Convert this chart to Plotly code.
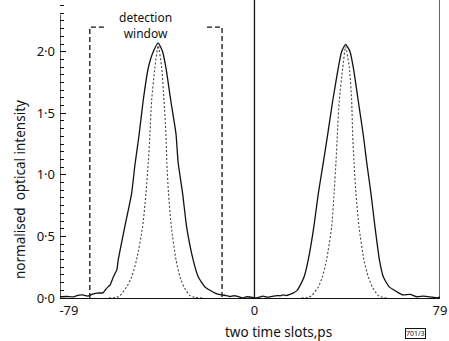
import plotly.graph_objects as go

# ---- data ----
solid_x = [-82.8, -80, -77, -75.6, -73.5, -71.5, -70.9, -69.2, -67.1, -64.5, -63.7, -62.4, -61.5, -60.1,
           -58.6, -58.0, -55.2, -52.3, -50.9, -49.1, -47.4, -45.2, -43.1, -41.0, -39.1, -37.7, -35.6,
           -33.4, -32.5, -30.6, -28.9, -26.1, -23.9, -21.1, -16.8, -14.0, -12.0, -10.4, -9.0, -7.5,
           -6.0, -4.9, -3.5, -1.9, 0.0, 1.1, 2.5, 3.6, 5.0, 6.6, 8.0, 9.6, 11.0, 12.1, 13.5, 15.1,
           16.4, 18.1, 19.1, 21.1, 22.9, 25.3, 27.2, 29.3, 31.2, 33.3, 35.7, 37.1, 38.8, 40.7, 42.1,
           44.2, 46.3, 47.8, 49.6, 51.3, 53.2, 54.9, 57.4, 60.7, 63.2, 66.2, 69.2, 71.8, 74.7, 77.7, 79.0]
solid_y = [0.01, 0.012, 0.01, 0.02, 0.025, 0.018, 0.015, 0.03, 0.04, 0.042, 0.06, 0.09, 0.105, 0.17,
           0.23, 0.31, 0.58, 0.85, 1.08, 1.33, 1.6, 1.87, 2.0, 2.07, 2.0, 1.87, 1.6,
           1.33, 1.1, 0.85, 0.58, 0.31, 0.17, 0.09, 0.04, 0.025, 0.02, 0.012, 0.018, 0.015,
           0.005, 0.0, 0.01, 0.008, 0.002, 0.0, 0.01, 0.015, 0.008, 0.01, 0.015, 0.02, 0.018, 0.025, 0.02, 0.03,
           0.04, 0.06, 0.09, 0.17, 0.31, 0.58, 0.85, 1.1, 1.33, 1.6, 1.87, 2.0, 2.06, 2.0, 1.87,
           1.6, 1.33, 1.1, 0.85, 0.58, 0.31, 0.17, 0.09, 0.05, 0.025, 0.03, 0.01, 0.015, 0.01, 0.0, 0.01]

dot1_x = [-62, -58.6, -57.3, -54.4, -52.3, -50.2, -47.6, -46.2, -45.2, -44.5, -43.8, -42.4, -41.0,
          -39.5, -38.5, -37.7, -37.3, -36.6, -35.4, -33.4, -31.7, -30.0, -27.5, -25.5, -22]
dot1_y = [0, 0.005, 0.02, 0.09, 0.17, 0.31, 0.58, 0.85, 1.1, 1.33, 1.6, 1.87, 2.05,
          1.87, 1.6, 1.33, 1.1, 0.85, 0.58, 0.31, 0.17, 0.09, 0.02, 0.005, 0]

dot2_x = [20, 22.9, 24.4, 27.2, 28.9, 30.7, 32.9, 33.9, 34.7, 35.3, 36.1, 37.6, 38.8,
          40.4, 41.4, 41.8, 42.4, 43.2, 44.5, 46.6, 48.5, 50.2, 52.7, 54.5, 57]
dot2_y = [0, 0.005, 0.02, 0.09, 0.17, 0.31, 0.58, 0.85, 1.1, 1.33, 1.6, 1.87, 2.04,
          1.87, 1.6, 1.33, 1.1, 0.85, 0.58, 0.31, 0.17, 0.09, 0.02, 0.005, 0]

window_x = [-70.1, -70.1, -64.1, None, -20.2, -13.8, -13.8]
window_y = [0, 2.2, 2.2, None, 2.2, 2.2, 0]

slot_x = [0, 0, None, 79, 79]
slot_y = [0, 2.42, None, 0, 2.42]

x_tick_vals = [-79, 0, 79]
x_tick_text = ["-79", "0", "79"]
y_tick_vals = [0, 0.5, 1.0, 1.5, 2.0]
y_tick_text = ["0·0", "0·5", "1·0", "1·5", "2·0"]
x_min, x_max = -82.8, 79
y_min, y_max = 0, 2.42
y_axis_top = 2.3

FONT = "Noto Sans"
L, R, T, B, W, H = 60, 9, 0, 43, 449, 341

fig = go.Figure()
fig.add_trace(go.Scatter(x=solid_x, y=solid_y, mode="lines",
                         line=dict(color="#111", width=1.3, shape="spline", smoothing=0.5),
                         cliponaxis=False, showlegend=False))
fig.add_trace(go.Scatter(x=dot1_x, y=dot1_y, mode="lines",
                         line=dict(color="#444", width=1.1, dash="2px,2px", shape="spline", smoothing=0.6),
                         showlegend=False))
fig.add_trace(go.Scatter(x=dot2_x, y=dot2_y, mode="lines",
                         line=dict(color="#444", width=1.1, dash="2px,2px", shape="spline", smoothing=0.6),
                         showlegend=False))
fig.add_trace(go.Scatter(x=window_x, y=window_y, mode="lines",
                         line=dict(color="#111", width=1.3, dash="5px,3px"), showlegend=False))
fig.add_trace(go.Scatter(x=slot_x, y=slot_y, mode="lines",
                         line=dict(color="#111", width=1.3), cliponaxis=False, showlegend=False))
fig.add_trace(go.Scatter(x=[x_min, x_min], y=[y_min, y_axis_top], mode="lines",
                         line=dict(color="#111", width=1.4), cliponaxis=False, showlegend=False))

fig.update_layout(
    width=W, height=H,
    margin=dict(l=L, r=R, t=T, b=B),
    paper_bgcolor="white", plot_bgcolor="white",
    font=dict(family=FONT, color="#111", size=13),
    xaxis=dict(range=[x_min, x_max], showgrid=False, zeroline=False,
               showline=True, linecolor="#111", linewidth=1.4,
               tickmode="array", tickvals=x_tick_vals, ticktext=x_tick_text,
               ticks="", tickfont=dict(size=13, family=FONT)),
    yaxis=dict(range=[y_min, y_max], showgrid=False, zeroline=False, showline=False,
               tickmode="array", tickvals=y_tick_vals, ticktext=y_tick_text,
               ticks="inside", ticklen=6, tickwidth=1.3, tickcolor="#111",
               ticklabelstandoff=4,
               tickfont=dict(size=13, family=FONT),
               minor=dict(tickmode="linear", tick0=0, dtick=0.0625,
                          ticks="inside", ticklen=4, tickwidth=1.1, tickcolor="#111")),
)


def px_to_paper(px, py):
    return (px - L) / (W - L - R), (H - B - py) / (H - B - T)


for txt, px, py, size, angle in [("detection<br>window", 145, 25, 12, 0),
                                 ("normalised  optical intensity", 20, 190, 13.5, -90),
                                 ("two time slots,ps", 278, 332, 13.5, 0)]:
    ax, ay = px_to_paper(px, py)
    fig.add_annotation(text=txt, x=ax, y=ay, xref="paper", yref="paper", showarrow=False,
                       textangle=angle, xanchor="center", yanchor="middle", align="center",
                       font=dict(size=size, family=FONT, color="#111"))
bx, by = px_to_paper(415, 333)
fig.add_annotation(text="701/3", x=bx, y=by, xref="paper", yref="paper", showarrow=False,
                   xanchor="center", yanchor="middle", bordercolor="#111", borderwidth=1, borderpad=0,
                   font=dict(size=7, family=FONT, color="#111"))

fig.write_html("out.html")
